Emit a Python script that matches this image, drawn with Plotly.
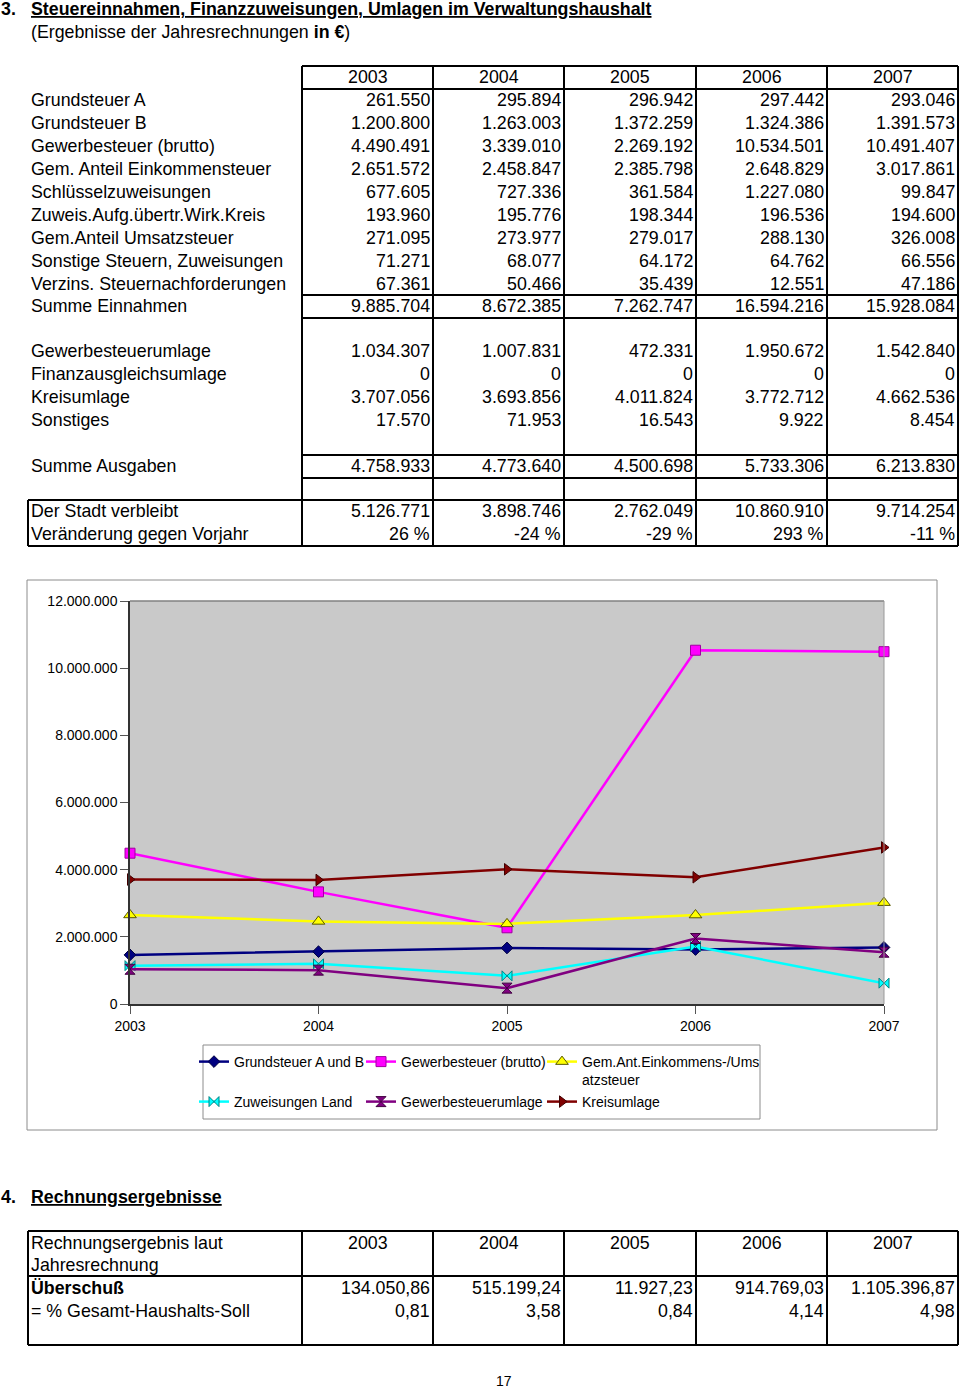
import plotly.graph_objects as go

# ---------------- data ----------------
years = [2003, 2004, 2005, 2006, 2007]
year_labels = ["2003", "2004", "2005", "2006", "2007"]

grundsteuer_a = [261550, 295894, 296942, 297442, 293046]
grundsteuer_b = [1200800, 1263003, 1372259, 1324386, 1391573]
gewerbesteuer = [4490491, 3339010, 2269192, 10534501, 10491407]
einkommensteuer = [2651572, 2458847, 2385798, 2648829, 3017861]
schluesselzuweisungen = [677605, 727336, 361584, 1227080, 99847]
zuweis_aufg = [193960, 195776, 198344, 196536, 194600]
umsatzsteuer = [271095, 273977, 279017, 288130, 326008]
sonstige_steuern = [71271, 68077, 64172, 64762, 66556]
verzinsung = [67361, 50466, 35439, 12551, 47186]
summe_einnahmen = [9885704, 8672385, 7262747, 16594216, 15928084]

gewst_umlage = [1034307, 1007831, 472331, 1950672, 1542840]
finanzausgleichsumlage = [0, 0, 0, 0, 0]
kreisumlage = [3707056, 3693856, 4011824, 3772712, 4662536]
sonstiges = [17570, 71953, 16543, 9922, 8454]
summe_ausgaben = [4758933, 4773640, 4500698, 5733306, 6213830]

verbleibt = [5126771, 3898746, 2762049, 10860910, 9714254]
veraenderung = [26, -24, -29, 293, -11]

ueberschuss = [134050.86, 515199.24, 11927.23, 914769.03, 1105396.87]
prozent_soll = [0.81, 3.58, 0.84, 4.14, 4.98]

# chart series (derived from the table rows)
grundsteuer_ab = [a + b for a, b in zip(grundsteuer_a, grundsteuer_b)]
zuweisungen_land = [s + z + u for s, z, u in zip(schluesselzuweisungen, zuweis_aufg, umsatzsteuer)]

series_names = ["Grundsteuer A und B", "Gewerbesteuer (brutto)",
                "Gem.Ant.Einkommens-/Ums<br>atzsteuer", "Zuweisungen Land",
                "Gewerbesteuerumlage", "Kreisumlage"]
series_values = [grundsteuer_ab, gewerbesteuer, einkommensteuer,
                 zuweisungen_land, gewst_umlage, kreisumlage]

# ---------------- helpers ----------------
W, H = 960, 1389
FONT = "Liberation Sans, Arial, sans-serif"
FS = 17.8


def X(px):
    return px / W


def Y(py):
    return 1 - py / H


def de_int(v):
    return f"{v:,}".replace(",", ".")


def de_dec(v):
    s = f"{v:,.2f}"
    return s.replace(",", "X").replace(".", ",").replace("X", ".")


annotations = []
shapes = []


def text(x, y, t, anchor="left", size=FS, bold=False):
    if bold:
        t = f"<b>{t}</b>"
    annotations.append(dict(xref="paper", yref="paper", x=X(x), y=Y(y), text=t,
                            showarrow=False, xanchor=anchor, yanchor="middle",
                            font=dict(family=FONT, size=size, color="black")))


def hline(x0, x1, y, w=2, color="black"):
    shapes.append(dict(type="line", xref="paper", yref="paper", x0=X(x0), x1=X(x1),
                       y0=Y(y), y1=Y(y), line=dict(color=color, width=w)))


def vline(x, y0, y1, w=2, color="black"):
    shapes.append(dict(type="line", xref="paper", yref="paper", x0=X(x), x1=X(x),
                       y0=Y(y0), y1=Y(y1), line=dict(color=color, width=w)))


col_edges = [302, 433, 564, 696, 827, 958]
label_x = 29

# ---------------- section 3 heading ----------------
text(-1, 9, "3.", bold=True)
text(label_x, 9, "<u>Steuereinnahmen, Finanzzuweisungen, Umlagen im Verwaltungshaushalt</u>", bold=True)
text(label_x, 32, "(Ergebnisse der Jahresrechnungen <b>in €</b>)")

# header
for i, yl in enumerate(year_labels):
    text((col_edges[i] + col_edges[i + 1]) / 2, 77, yl, anchor="center")

rows = [
    ("Grundsteuer A", grundsteuer_a, 100),
    ("Grundsteuer B", grundsteuer_b, 123),
    ("Gewerbesteuer (brutto)", gewerbesteuer, 146),
    ("Gem. Anteil Einkommensteuer", einkommensteuer, 169),
    ("Schlüsselzuweisungen", schluesselzuweisungen, 192),
    ("Zuweis.Aufg.übertr.Wirk.Kreis", zuweis_aufg, 215),
    ("Gem.Anteil Umsatzsteuer", umsatzsteuer, 238),
    ("Sonstige Steuern, Zuweisungen", sonstige_steuern, 261),
    ("Verzins. Steuernachforderungen", verzinsung, 284),
    ("Summe Einnahmen", summe_einnahmen, 306),
    ("Gewerbesteuerumlage", gewst_umlage, 351),
    ("Finanzausgleichsumlage", finanzausgleichsumlage, 374),
    ("Kreisumlage", kreisumlage, 397),
    ("Sonstiges", sonstiges, 420),
    ("Summe Ausgaben", summe_ausgaben, 466),
    ("Der Stadt verbleibt", verbleibt, 511),
]
for label, vals, y in rows:
    text(label_x, y, label)
    for i, v in enumerate(vals):
        text(col_edges[i + 1] - 1, y, de_int(v), anchor="right")

text(label_x, 534, "Veränderung gegen Vorjahr")
for i, v in enumerate(veraenderung):
    text(col_edges[i + 1] - 1, 534, f"{v} %", anchor="right")

# table 1 lines
for y in [66, 89, 295, 318, 455, 478]:
    hline(col_edges[0], col_edges[-1], y)
hline(28, col_edges[-1], 500)
hline(28, col_edges[-1], 546)
for x in col_edges:
    vline(x, 66, 546)
vline(28, 500, 546)

# ---------------- chart frame ----------------
shapes.append(dict(type="rect", xref="paper", yref="paper", x0=X(27), x1=X(937),
                   y0=Y(580), y1=Y(1130), line=dict(color="#8c8c8c", width=1),
                   fillcolor="rgba(0,0,0,0)", layer="below"))
# plot-area top and right border
shapes.append(dict(type="line", xref="paper", yref="paper", x0=X(130), x1=X(884),
                   y0=Y(601), y1=Y(601), line=dict(color="#808080", width=1.5), layer="above"))
shapes.append(dict(type="line", xref="paper", yref="paper", x0=X(884), x1=X(884),
                   y0=Y(601), y1=Y(1004), line=dict(color="#999999", width=1), layer="above"))
# legend box
shapes.append(dict(type="rect", xref="paper", yref="paper", x0=X(203), x1=X(760),
                   y0=Y(1045), y1=Y(1119), line=dict(color="#8c8c8c", width=1),
                   fillcolor="rgba(0,0,0,0)"))

# ---------------- section 4 ----------------
text(-1, 1197, "4.", bold=True)
text(label_x, 1197, "<u>Rechnungsergebnisse</u>", bold=True)
text(label_x, 1243, "Rechnungsergebnis laut")
text(label_x, 1265, "Jahresrechnung")
for i, yl in enumerate(year_labels):
    text((col_edges[i] + col_edges[i + 1]) / 2, 1243, yl, anchor="center")
text(label_x, 1288, "Überschuß", bold=True)
text(label_x, 1311, "= % Gesamt-Haushalts-Soll")
for i, v in enumerate(ueberschuss):
    text(col_edges[i + 1] - 1, 1288, de_dec(v), anchor="right")
for i, v in enumerate(prozent_soll):
    text(col_edges[i + 1] - 1, 1311, f"{v:.2f}".replace(".", ","), anchor="right")

hline(28, col_edges[-1], 1231)
hline(28, col_edges[-1], 1276)
hline(28, col_edges[-1], 1345)
vline(28, 1231, 1345)
for x in col_edges:
    vline(x, 1231, 1345)

text(504, 1381, "17", anchor="center", size=14)

# ---------------- chart ----------------
styles = [
    dict(color="#000080", symbol="diamond", mcolor="#000080", mline="#000040", size=9),
    dict(color="#FF00FF", symbol="square", mcolor="#FF00FF", mline="#A000A0", size=10),
    dict(color="#FFFF00", symbol="triangle-up", mcolor="#FFFF00", mline="#555500", size=11),
    dict(color="#00FFFF", symbol="bowtie", mcolor="#00FFFF", mline="#008080", size=10),
    dict(color="#800080", symbol="hourglass", mcolor="#800080", mline="#400040", size=10),
    dict(color="#800000", symbol="triangle-right", mcolor="#800000", mline="#400000", size=10),
]
legend_keys = ["legend", "legend2", "legend3", "legend4", "legend5", "legend6"]

fig = go.Figure()
for name, vals, st, lk in zip(series_names, series_values, styles, legend_keys):
    fig.add_trace(go.Scatter(
        x=years, y=vals, mode="lines+markers", name=name, legend=lk,
        line=dict(color=st["color"], width=2.5),
        marker=dict(symbol=st["symbol"], size=st["size"], color=st["mcolor"],
                    line=dict(color=st["mline"], width=1)),
        cliponaxis=False,
    ))

legend_font = dict(family=FONT, size=14, color="black")
legend_pos = [(194, 1046), (361, 1046), (542, 1046), (194, 1086), (361, 1086), (542, 1086)]
legend_layout = {}
for lk, (lx, ly) in zip(legend_keys, legend_pos):
    legend_layout[lk] = dict(x=X(lx), y=Y(ly), xanchor="left", yanchor="top",
                             bgcolor="rgba(0,0,0,0)", borderwidth=0,
                             font=legend_font, valign="top", tracegroupgap=0)

fig.update_layout(
    template="none",
    width=W, height=H, autosize=False,
    margin=dict(l=0, r=0, t=0, b=0, pad=0, autoexpand=False),
    paper_bgcolor="white",
    plot_bgcolor="#C9C9C9",
    separators=",.",
    showlegend=True,
    annotations=annotations,
    shapes=shapes,
    xaxis=dict(domain=[X(130), X(884)], range=[2003, 2007], tickvals=years,
               ticktext=year_labels, showgrid=False, zeroline=False, automargin=False,
               showline=True, linecolor="#333333", linewidth=1.5,
               ticks="outside", ticklen=8, tickcolor="#555555",
               tickfont=dict(family=FONT, size=14, color="black")),
    yaxis=dict(domain=[Y(1004), Y(601)], range=[0, 12000000], dtick=2000000,
               tickformat=",d", showgrid=False, zeroline=False, automargin=False,
               showline=True, linecolor="#333333", linewidth=1.5,
               ticks="outside", ticklen=8, tickcolor="#555555",
               tickfont=dict(family=FONT, size=14, color="black")),
    **legend_layout,
)

# remove the browser's default 8px page margin so the figure fills the window exactly
fig.write_html("out.html",
               config={"displayModeBar": False},
               post_script="document.body.style.margin='0';document.body.style.overflow='hidden';")
